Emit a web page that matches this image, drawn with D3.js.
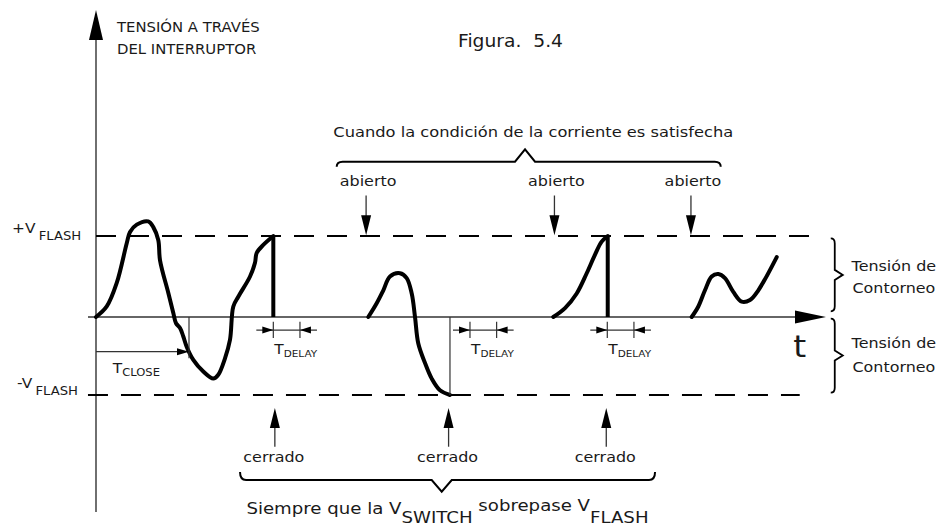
<!DOCTYPE html>
<html>
<head>
<meta charset="utf-8">
<script src="https://cdn.jsdelivr.net/npm/d3@7"></script>
<style>
body { margin: 0; background: #fff; }
svg text { font-family: "DejaVu Sans", Verdana, sans-serif; fill: #1a1a1a; }
</style>
</head>
<body>
<svg id="chart"></svg>
<script>
var width = 944;
var height = 532;

// waveform pieces, [time, voltage / V_FLASH]
var pulse1 = [[0, 0], [1.47, 0.13], [2.84, 0.42], [4.21, 0.91], [4.66, 1.05], [5.58, 1.14],
    [7.16, 1.18], [7.85, 1.11], [8.53, 0.95], [8.77, 0.70], [9.90, 0.30], [10.59, 0.05],
    [10.96, -0.08], [11.51, -0.14], [11.96, -0.25], [12.42, -0.38], [13.33, -0.55],
    [14.70, -0.70], [16.07, -0.79], [16.75, -0.74], [17.67, -0.53], [18.36, -0.29],
    [18.81, 0.13], [19.49, 0.25], [21.10, 0.50], [21.78, 0.67], [22.01, 0.79],
    [22.92, 0.89], [24.29, 1.0]];
var pulse2 = [[37.30, 0], [38.45, 0.17], [39.36, 0.33], [40.27, 0.50], [41.64, 0.54],
    [42.56, 0.48], [43.25, 0.29], [43.70, 0], [44.15, -0.34], [45.07, -0.59],
    [45.99, -0.79], [47.12, -0.94], [48.49, -1.0]];
var pulse3 = [[62.64, 0], [64.25, 0.11], [65.85, 0.29], [67.22, 0.54], [68.36, 0.77],
    [69.27, 0.93], [70.10, 1.0]];
var pulse4 = [[81.60, 0], [82.51, 0.13], [83.42, 0.33], [84.34, 0.50], [85.25, 0.53],
    [86.16, 0.48], [87.30, 0.31], [88.45, 0.19], [89.59, 0.21], [90.73, 0.33], [93.25, 0.74]];

var dropTimes = [24.29, 70.10];
var flashLevels = [1, -1];
var levelStarts = [0, -1.1];
var levelEnds = [97.8, 96.4];
var abiertoTimes = [37.0, 62.8, 81.5];
var cerradoTimes = [24.5, 48.3, 69.9];
var delayStarts = [24.29, 51.23, 70.04];
var delayLength = 3.65;
var closeTime = 12.74;
var negPeakTime = 48.49;

var svg = d3.select("#chart")
    .attr("width", width)
    .attr("height", height);

var x = d3.scaleLinear().domain([0, 100]).range([96, 826]);
var y = d3.scaleLinear().domain([-1, 0, 1]).range([395, 317, 236]);

var stretch = 1.1;

var line = d3.line()
    .x(function (d) { return x(d[0]); })
    .y(function (d) { return y(d[1]); })
    .curve(d3.curveCatmullRom.alpha(0.5));

function arrowHead(tx, ty, dx, dy, len, half) {
    var bx = tx - dx * len;
    var by = ty - dy * len;
    var px = -dy * half;
    var py = dx * half;
    svg.append("path")
        .attr("d", "M" + tx + "," + ty + "L" + (bx + px) + "," + (by + py) +
            "L" + (bx - px) + "," + (by - py) + "Z")
        .attr("fill", "#000");
}

function seg(x1, y1, x2, y2, w, col) {
    return svg.append("line")
        .attr("x1", x1).attr("y1", y1)
        .attr("x2", x2).attr("y2", y2)
        .attr("stroke", col || "#000")
        .attr("stroke-width", w);
}

function addText(px, py, size, anchor) {
    return svg.append("text")
        .attr("transform", "translate(" + px + "," + py + ") scale(" + stretch + ",1)")
        .attr("font-size", size)
        .attr("text-anchor", anchor || "start")
        .style("white-space", "pre");
}

// axes
seg(x(0), y(-2.5), x(0), y(3.45), 1.4, "#333");
arrowHead(x(0), y(3.79), 0, -1, 30, 7);
seg(x(-1.1), y(0), x(96), y(0), 1.4, "#333");
arrowHead(x(100), y(0), 1, 0, 31, 6.5);

// flash levels
for (var i = 0; i < flashLevels.length; i++) {
    seg(x(levelStarts[i]), y(flashLevels[i]), x(levelEnds[i]), y(flashLevels[i]), 2)
        .attr("stroke-dasharray", "20,13");
}

// waveforms
var pulses = [pulse1, pulse2, pulse3, pulse4];
svg.selectAll("path.wave")
    .data(pulses)
    .enter()
    .append("path")
    .attr("class", "wave")
    .attr("d", line)
    .attr("fill", "none")
    .attr("stroke", "#000")
    .attr("stroke-width", 4)
    .attr("stroke-linecap", "round")
    .attr("stroke-linejoin", "round");

for (var i = 0; i < dropTimes.length; i++) {
    seg(x(dropTimes[i]), y(1), x(dropTimes[i]), y(0), 4);
}

// T_CLOSE
seg(x(closeTime), y(0), x(closeTime), y(-0.53), 1.2, "#333");
seg(x(0), y(-0.445), x(closeTime) - 8, y(-0.445), 1.2, "#333");
arrowHead(x(closeTime), y(-0.445), 1, 0, 12, 3.5);
var tc = addText(x(2.3), y(-0.72), 14);
tc.append("tspan").text("T");
tc.append("tspan").text("CLOSE").attr("font-size", 10.5).attr("dy", 3);

// thin marker at negative peak
seg(x(negPeakTime), y(0), x(negPeakTime), y(-1), 1.2, "#333");

// T_DELAY markers
for (var i = 0; i < delayStarts.length; i++) {
    var a = x(delayStarts[i]);
    var b = x(delayStarts[i] + delayLength);
    var yl = y(-0.167);
    seg(a - 17, yl, b + 17, yl, 1.2, "#333");
    seg(a, y(-0.06), a, y(-0.27), 1.2, "#333");
    seg(b, y(-0.06), b, y(-0.27), 1.2, "#333");
    arrowHead(a, yl, 1, 0, 11, 3.5);
    arrowHead(b, yl, -1, 0, 11, 3.5);
    var td = addText(a + 1, y(-0.474), 14);
    td.append("tspan").text("T");
    td.append("tspan").text("DELAY").attr("font-size", 9.5).attr("dy", 3);
}

// abierto arrows
for (var i = 0; i < abiertoTimes.length; i++) {
    seg(x(abiertoTimes[i]), y(1.5), x(abiertoTimes[i]), y(1.2), 1.3, "#333");
    arrowHead(x(abiertoTimes[i]), y(1.01), 0, 1, 20, 5);
    addText(x(abiertoTimes[i]) + 2, y(1.62), 14.5, "middle").text("abierto");
}

// cerrado arrows
for (var i = 0; i < cerradoTimes.length; i++) {
    seg(x(cerradoTimes[i]), y(-1.663), x(cerradoTimes[i]), y(-1.35), 1.3, "#333");
    arrowHead(x(cerradoTimes[i]), y(-1.167), 0, -1, 20, 5);
    addText(x(cerradoTimes[i]) - 1, y(-1.855), 14.5, "middle").text("cerrado");
}

// braces
function hBrace(x0, x1, xm, yb, dir, endH, tipH) {
    var p = "M" + x0 + "," + (yb - dir * endH) +
        "Q" + x0 + "," + yb + "," + (x0 + 6) + "," + yb +
        "L" + (xm - 10) + "," + yb +
        "L" + xm + "," + (yb + dir * tipH) +
        "L" + (xm + 10) + "," + yb +
        "L" + (x1 - 6) + "," + yb +
        "Q" + x1 + "," + yb + "," + x1 + "," + (yb - dir * endH);
    svg.append("path").attr("d", p).attr("fill", "none")
        .attr("stroke", "#000").attr("stroke-width", 2);
}

function vBrace(bx, ya, yb) {
    var ym = (ya + yb) / 2;
    var p = "M" + (bx - 4) + "," + ya +
        "Q" + bx + "," + ya + "," + bx + "," + (ya + 5) +
        "L" + bx + "," + (ym - 5) +
        "L" + (bx + 8) + "," + ym +
        "L" + bx + "," + (ym + 5) +
        "L" + bx + "," + (yb - 5) +
        "Q" + bx + "," + yb + "," + (bx - 4) + "," + yb;
    svg.append("path").attr("d", p).attr("fill", "none")
        .attr("stroke", "#000").attr("stroke-width", 1.8);
}

hBrace(x(32.97), x(85.58), x(58.77), y(1.917), -1, 5, 12.4);
hBrace(x(19.73), x(76.58), x(47.36), y(-2.09), 1, 8, 11.7);
vBrace(x(101.2), y(0.97), y(0.07));
vBrace(x(101.2), y(-0.02), y(-0.97));

// text
addText(x(59.9), y(2.22), 14.8, "middle").text("Cuando la condición de la corriente es satisfecha");

var bt = addText(x(20.6), y(-2.52), 16.5);
bt.append("tspan").text("Siempre que la V");
bt.append("tspan").text("SWITCH").attr("dy", 9);
bt.append("tspan").text(" sobrepase V").attr("dy", -12);
bt.append("tspan").text("FLASH").attr("dy", 12);

var rightLabels = [[0.572, "Tensión de"], [0.296, "Contorneo"], [-0.401, "Tensión de"], [-0.70, "Contorneo"]];
for (var i = 0; i < rightLabels.length; i++) {
    addText(x(109.3), y(rightLabels[i][0]), 14.5, "middle").text(rightLabels[i][1]);
}

addText(x(95.5), y(-0.51), 30).text("t");

var vp = addText(x(0) - 84, y(1) - 3, 14);
vp.append("tspan").text("+V");
vp.append("tspan").text("FLASH").attr("font-size", 12).attr("dx", 3).attr("dy", 7);
var vn = addText(x(0) - 79, y(-1) - 7, 14);
vn.append("tspan").text("-V");
vn.append("tspan").text("FLASH").attr("font-size", 12).attr("dx", 3).attr("dy", 7);

addText(x(0) + 21, 32, 13.5).text("TENSIÓN A TRAVÉS");
addText(x(0) + 21, 54, 13.5).text("DEL INTERRUPTOR");

addText(458, 47, 17).text("Figura.  5.4");
</script>
</body>
</html>
